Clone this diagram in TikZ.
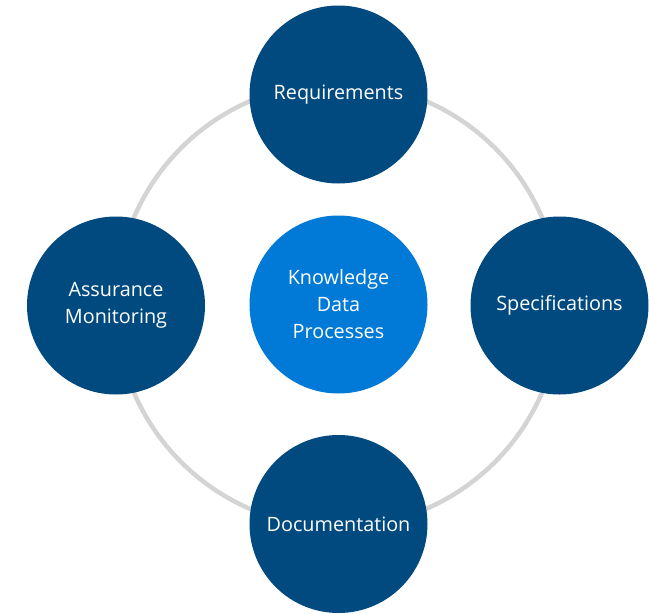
\documentclass[tikz,border=0pt]{standalone}
\usepackage{fontspec}
\setmainfont{Open Sans}
\definecolor{darkblue}{HTML}{014A80}
\definecolor{lightblue}{HTML}{0179D6}
\definecolor{ringgray}{HTML}{D4D4D4}
\begin{document}
\begin{tikzpicture}[x=1pt,y=-1pt,
  bubble/.style={circle, minimum size=178pt, inner sep=0pt, fill=darkblue, text=white,
    align=center, font=\fontsize{19.8}{27}\selectfont},
  hub/.style={bubble, fill=lightblue},
  ring/.style={draw=ringgray, line width=4.5pt}]
\useasboundingbox (0,0) rectangle (649,614);
\coordinate (mid) at (338,305);
\draw[ring] (mid) circle (222);
\node[bubble] (req) at (338.5,94.5) {Requirements};
\node[bubble] (spec) at (559.5,305.5) {Specifications};
\node[bubble] (doc) at (338.5,524) {Documentation};
\node[bubble] (assur) at (116,305.5) {Assurance\\Monitoring};
\node[hub] (core) at (338.5,304.5) {Knowledge\\Data\\Processes};
\end{tikzpicture}
\end{document}
